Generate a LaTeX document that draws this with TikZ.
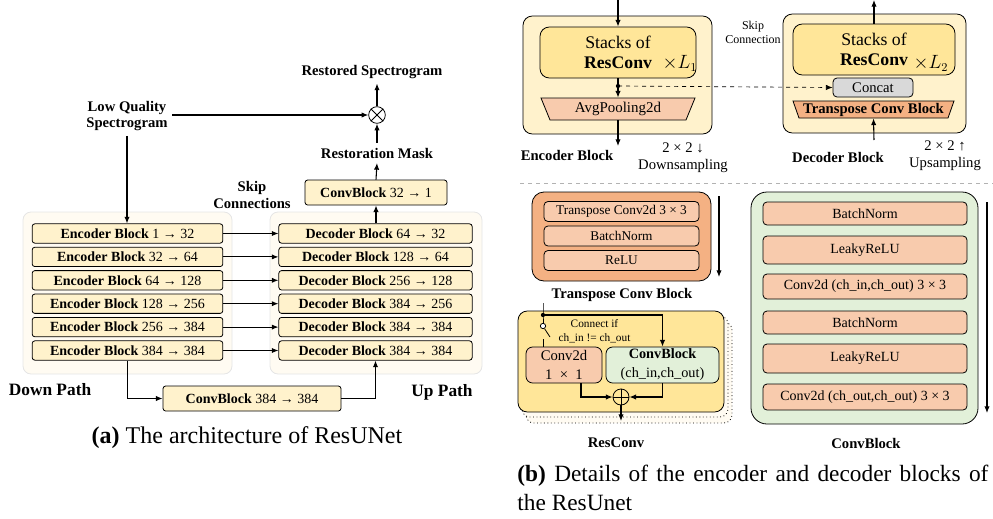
\documentclass[tikz,border=0pt]{standalone}
\usepackage{fontspec}
\setmainfont{Liberation Serif}
\usetikzlibrary{arrows.meta,calc}

\definecolor{cream}{HTML}{FFF2CC}
\definecolor{paper}{HTML}{FFFBF2}
\definecolor{gold}{HTML}{FFE699}
\definecolor{peach}{HTML}{F8CBAD}
\definecolor{salmon}{HTML}{F4B183}
\definecolor{mint}{HTML}{E2F0D9}
\definecolor{silver}{HTML}{D9D9D9}

\begin{document}
\begin{tikzpicture}[x=0.75pt, y=-0.75pt, line width=0.6pt,
    arr/.style={-{Latex[length=5pt,width=4pt]}, line width=0.8pt},
    panel/.style={draw=black!10, fill=paper, rounded corners=6pt},
    blk/.style={draw, fill=cream, rounded corners=2pt, minimum height=14.5pt, inner sep=1pt, font=\fontsize{10.5}{12}\selectfont},
    lbl/.style={font=\fontsize{11}{12.5}\selectfont\bfseries, align=center},
    big/.style={font=\fontsize{13}{15}\selectfont\bfseries},
    note/.style={font=\fontsize{11}{12.75}\selectfont, align=center},
    op/.style={draw, circle, minimum size=12.5pt, inner sep=0pt},
    outer/.style={draw, rounded corners=7pt, fill=cream},
    stack/.style={draw, rounded corners=7pt, fill=gold, font=\fontsize{13.3}{15}\selectfont, align=center},
    layer/.style={draw, rounded corners=3pt, fill=peach, inner sep=1pt, font=\fontsize{10.5}{12}\selectfont}]
  \useasboundingbox (0,0) rectangle (993,518);

  % (a) ResUNet
  \draw[panel] (23,212) rectangle (232,374);
  \draw[panel] (270,212) rectangle (482,374);

  \node[lbl] (lq) at (127,116) {Low Quality\\Spectrogram};
  \node[op] (mul) at (377,115) {};
  \draw (mul.45) -- (mul.225) (mul.135) -- (mul.315);
  \node[lbl] (restored) at (372,72) {Restored Spectrogram};
  \node[lbl] (mask) at (377,153) {Restoration Mask};
  \node[blk, minimum width=106.5pt, minimum height=18.75pt] (head) at (376,192.5) {\textbf{ConvBlock} 32 → 1};
  \node[lbl] (skip) at (252,195) {Skip\\Connections};

  \foreach \i/\a/\b in {1/1/32, 2/32/64, 3/64/128, 4/128/256, 5/256/384, 6/384/384}
    \node[blk, minimum width=143pt] (e\i) at (127.5,{210.1+23.4*\i}) {\textbf{Encoder Block} \a\ → \b};
  \foreach \i/\a/\b in {1/64/32, 2/128/64, 3/256/128, 4/384/256, 5/384/384, 6/384/384}
    \node[blk, minimum width=145pt] (d\i) at (375.5,{210.1+23.4*\i}) {\textbf{Decoder Block} \a\ → \b};
  \foreach \i in {1,...,6}
    \draw[arr] (e\i.east) -- (d\i.west);

  \node[blk, minimum width=133.5pt, minimum height=18.75pt] (mid) at (252,398.5) {\textbf{ConvBlock} 384 → 384};
  \node[big] (down) at (50,390) {Down Path};
  \node[big] (up) at (442,392) {Up Path};
  \node[font=\fontsize{18}{21}\selectfont] (capa) at (247,438) {\textbf{(a)} The architecture of ResUNet};

  \draw[arr] (lq.south) -- (lq.south |- e1.north);
  \draw[arr] (lq.east |- mul.west) -- (mul.west);
  \draw[arr] (mul.north) -- (mul.north |- restored.south);
  \draw[arr] (mask.north) -- (mul.south);
  \draw[arr] (head.north) -- (mask.south);
  \draw[arr] (head.south |- d1.north) -- (head.south);
  \draw[arr] (e6.south) |- (mid.west);
  \draw[arr] (mid.east) -| (d6.south);

  % (b) encoder block
  \node[outer, minimum width=141.75pt, minimum height=88.5pt] (enc) at (617.5,75) {};
  \node[stack, minimum width=117pt, minimum height=38.25pt] (st1) at (618,52.5) {Stacks of\\\textbf{ResConv}};
  \node[font=\fontsize{13.3}{15}\selectfont] (l1) at (680,63) {$\times L_1$};
  \draw[fill=peach] (541,98) -- (695,98) -- (686,120) -- (550,120) -- cycle;
  \node[minimum width=102pt, minimum height=16.5pt, inner sep=0pt, font=\fontsize{11.2}{12}\selectfont] (avg) at (618,109) {AvgPooling2d};
  \coordinate (ein) at (618,0);
  \coordinate (eout) at (618,146);
  \coordinate (tap) at (618,86);
  \draw[arr] (ein) -- (st1.north);
  \draw[arr] (st1.south) -- (avg.north);
  \fill (tap) circle (1.6pt);
  \draw[arr] (avg.south) -- (eout);
  \node[lbl] (encl) at (567,155) {Encoder Block};
  \node[note] (downs) at (683,157.5) {2 × 2 ↓\\Downsampling};
  \node[font=\fontsize{9}{10.5}\selectfont, align=center] (skipl) at (753,32) {Skip\\Connection};

  % (b) decoder block
  \node[outer, minimum width=137.25pt, minimum height=89.25pt] (dec) at (874.5,73.5) {};
  \node[stack, minimum width=121.5pt, minimum height=38.25pt] (st2) at (874,49.5) {Stacks of\\\textbf{ResConv}};
  \node[font=\fontsize{13.3}{15}\selectfont] (l2) at (931,63) {$\times L_2$};
  \node[draw, rounded corners=3pt, fill=silver, minimum width=60pt, minimum height=14.25pt, inner sep=0pt, font=\fontsize{11}{12}\selectfont] (cat) at (873,87.5) {Concat};
  \draw[fill=salmon] (793,101) -- (954,101) -- (948,118) -- (799,118) -- cycle;
  \node[minimum width=111.75pt, minimum height=12.75pt, inner sep=0pt, font=\fontsize{11}{12}\selectfont\bfseries] (tcb) at (873.5,109.5) {Transpose Conv Block};
  \coordinate (din) at (874,140);
  \coordinate (dout) at (874,0);
  \draw[arr] (din) -- (tcb.south);
  \draw[arr] (st2.north) -- (dout);
  \draw[arr, dashed, line width=0.5pt] (tap) -- (cat.west);
  \node[lbl] (decl) at (838,157) {Decoder Block};
  \node[note] (ups) at (945,156) {2 × 2 ↑\\Upsampling};

  \draw[dashed, black!30] (520,183) -- (993,183);

  % transpose conv block
  \node[draw, rounded corners=9pt, fill=salmon, minimum width=134.25pt, minimum height=66.75pt] (tpanel) at (621.5,236.5) {};
  \foreach \i/\y/\t in {1/211.5/Transpose Conv2d 3 × 3, 2/236/BatchNorm, 3/260.5/ReLU}
    \node[layer, minimum width=116.25pt, minimum height=15pt, font=\fontsize{10}{12}\selectfont] (t\i) at (621.5,\y) {\t};
  \coordinate (ta) at (719,196);
  \coordinate (tb) at (719,277);
  \draw[arr] (ta) -- (tb);
  \node[lbl] (tcbl) at (622,295) {Transpose Conv Block};

  % resconv
  \draw[dotted, fill=paper, rounded corners=6pt] (526,322) rectangle (732,423);
  \draw[dotted, fill=paper, rounded corners=6pt] (522,316) rectangle (728,417);
  \node[draw, rounded corners=7pt, fill=gold, minimum width=154.5pt, minimum height=75.75pt] (rpanel) at (621,361.5) {};
  \node[draw, rounded corners=5pt, fill=peach, minimum width=57pt, minimum height=27pt, inner sep=1pt, align=center, font=\fontsize{11}{14.25}\selectfont] (c11) at (564,365) {Conv2d\\1\enspace×\enspace1};
  \node[draw, rounded corners=5pt, fill=mint, minimum width=84.75pt, minimum height=27pt, inner sep=1pt, align=center, font=\fontsize{10.7}{14.25}\selectfont] (cbr) at (662.5,365) {\textbf{ConvBlock}\\(ch\_in,ch\_out)};
  \node[op, minimum size=12pt] (sum) at (621,397) {};
  \draw (sum.north) -- (sum.south) (sum.west) -- (sum.east);
  \coordinate (rin) at (543,303);
  \coordinate (fork) at (543,315);
  \node[draw, circle, fill=white, inner sep=0pt, minimum size=4pt] (sw) at (543,326) {};
  \coordinate (swe) at (550,337);
  \coordinate (swb) at (543,339);
  \draw (rin) -- (fork) -- (sw.north);
  \fill (fork) circle (1.6pt);
  \draw (sw.-60) -- (swe);
  \draw (swb) -- (swb |- c11.north);
  \draw[arr] (fork) -| (cbr.north);
  \draw[arr] ($(c11.south)+(17,0)$) |- (sum.west);
  \draw[arr] (cbr.south) |- (sum.east);
  \coordinate (rout) at (621,421);
  \draw[arr] (sum.south) -- (rout);
  \node[font=\fontsize{8.5}{10.5}\selectfont, align=center] (cond) at (594.5,331) {Connect if\\ch\_in != ch\_out};
  \node[lbl] (rcl) at (616,443) {ResConv};

  % convblock
  \node[draw, rounded corners=12pt, fill=mint, minimum width=170.25pt, minimum height=174pt] (cpanel) at (864.5,308) {};
  \foreach \i/\y/\h/\t in {1/213.5/17.25/BatchNorm, 2/250/21/LeakyReLU, 3/286.5/18.75/{Conv2d (ch\_in,ch\_out) 3 × 3},
                          4/322.5/17.25/BatchNorm, 5/358.5/21.75/LeakyReLU, 6/397/19.5/{Conv2d (ch\_out,ch\_out) 3 × 3}}
    \node[layer, minimum width=153pt, minimum height=\h pt] (k\i) at (865,\y) {\t};
  \coordinate (ka) at (987,202);
  \coordinate (kb) at (987,413);
  \draw[arr] (ka) -- (kb);
  \node[lbl] (cbl) at (866,443) {ConvBlock};

  \node[font=\fontsize{17.5}{21.75}\selectfont, text width=353.25pt, align=justify, inner sep=0pt, anchor=north west] (capb) at (517,465) {\textbf{(b)} Details of the encoder and decoder blocks of\linebreak the ResUnet};
\end{tikzpicture}
\end{document}
